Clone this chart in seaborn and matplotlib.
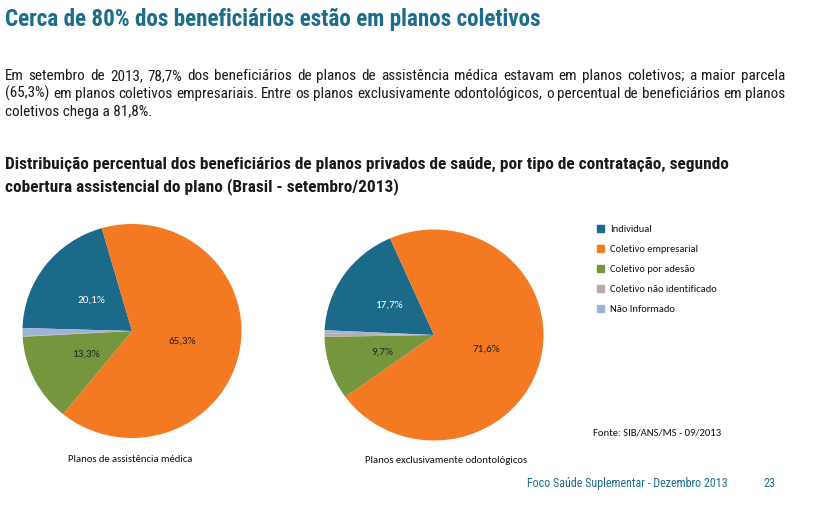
import matplotlib
matplotlib.use('Agg')
import matplotlib.pyplot as plt
import seaborn as sns
from matplotlib import font_manager as fm
from matplotlib.transforms import IdentityTransform

sns.set_theme(style='white')

names = {f.name for f in fm.fontManager.ttflist}
COND = 'Roboto Condensed' if 'Roboto Condensed' in names else 'DejaVu Sans'
SOFT = 'Carlito' if 'Carlito' in names else 'Lato'

# ---------------- data ----------------
categories = ['Individual', 'Coletivo empresarial', 'Coletivo por adesão',
              'Coletivo não identificado', 'Não Informado']
medica = [20.1, 65.3, 13.3, 0.1, 1.2]
odonto = [17.7, 71.6, 9.7, 0.5, 0.5]
colors = ['#1B6A89', '#F37A22', '#76963D', '#B8ADA7', '#9FB3D8']

title = 'Cerca de 80% dos beneficiários estão em planos coletivos'
paragraph = [
    'Em setembro de 2013, 78,7% dos beneficiários de planos de assistência médica estavam em planos coletivos; a maior parcela',
    '(65,3%) em planos coletivos empresariais. Entre os planos exclusivamente odontológicos, o percentual de beneficiários em planos',
    'coletivos chega a 81,8%.',
]
subtitle = [
    'Distribuição percentual dos beneficiários de planos privados de saúde, por tipo de contratação, segundo',
    'cobertura assistencial do plano (Brasil - setembro/2013)',
]
captions = ['Planos de assistência médica', 'Planos exclusivamente odontológicos']
source = 'Fonte: SIB/ANS/MS - 09/2013'
footer = 'Foco Saúde Suplementar - Dezembro 2013'
page = '23'

W, H = 814, 505
fig = plt.figure(figsize=(W / 100, H / 100), dpi=100)
fig.patch.set_facecolor('white')
renderer = fig.canvas.get_renderer()
ID = IdentityTransform()

TEAL = '#1C6D8C'


def width_of(s, size, family, weight='normal'):
    t = fig.text(0, 0, s, fontsize=size, family=family, weight=weight)
    w = t.get_window_extent(renderer).width
    t.remove()
    return w


def fit(s, target, family, weight='normal'):
    return 10 * target / width_of(s, 10, family, weight)


def put(x, ytop, s, size, family, weight='normal', color='black', ha='left'):
    # ytop is the vertical centre of the capital letters (pixels from top)
    base = round(ytop + 0.36 * size * 100 / 72)
    fig.text(x, H - base, s, fontsize=size, family=family, weight=weight,
             color=color, ha=ha, va='baseline', transform=ID)


# title
ts = fit(title, 538, COND, 'bold')
put(5, 18, title, ts, COND, 'bold', TEAL)

# paragraph (justified)
ps = fit(paragraph[1], 772, COND)
for i, line in enumerate(paragraph):
    y = 75 + 18 * i
    if i == len(paragraph) - 1:
        put(5, y, line, ps, COND, color='#1a1a1a')
        continue
    words = line.split(' ')
    ws = [width_of(w, ps, COND) for w in words]
    gap = (780 - sum(ws)) / (len(words) - 1)
    x = 5
    for w, wd in zip(words, ws):
        put(x, y, w, ps, COND, color='#1a1a1a')
        x += wd + gap

# subtitle
ss = fit(subtitle[0], 722, COND, 'bold')
put(5, 163, subtitle[0], ss, COND, 'bold', '#1a1a1a')
put(5, 185, subtitle[1], ss, COND, 'bold', '#1a1a1a')


# pies
def fmt(v):
    return ('%.1f%%' % v).replace('.', ',') if v >= 5 else ''


pies = [
    (medica, (132, 331, 109.5, 107), 178.4, 0.47),
    (odonto, (434, 335, 109.5, 105.5), 177.4, 0.50),
]
for vals, (cx, cy, rx, ry), start, pd in pies:
    ax = fig.add_axes([(cx - rx) / W, (H - cy - ry) / H, 2 * rx / W, 2 * ry / H])
    wedges, texts, autotexts = ax.pie(
        vals, colors=colors, startangle=start, counterclock=False,
        autopct=lambda v: fmt(v), pctdistance=pd, radius=1,
        wedgeprops=dict(linewidth=0),
        textprops=dict(fontsize=8, family=SOFT, color='#222222'))
    autotexts[0].set_color('white')
    ax.set_aspect('auto')
    ax.set_xlim(-1, 1)
    ax.set_ylim(-1, 1)
    ax.axis('off')

cs = fit(captions[0], 125, SOFT)
put(130, 458, captions[0], cs, SOFT, color='#111111', ha='center')
put(446, 459, captions[1], cs, SOFT, color='#111111', ha='center')

# legend
ls = fit(categories[3], 107, SOFT)
for i, (cat, col) in enumerate(zip(categories, colors)):
    y = 228 + 20 * i
    fig.patches.append(plt.Rectangle((597, H - y - 3.5), 7, 7, color=col,
                                     transform=ID, figure=fig))
    put(610, y, cat, ls, SOFT, color='#111111')

# source
fs = fit(source, 129, SOFT)
put(593, 431, source, fs, SOFT, color='#111111')

# footer
ff = fit(footer, 201, COND)
put(527, 483, footer, ff, COND, color=TEAL)
put(763, 483, page, ff, COND, color=TEAL)

fig.savefig('out.png', dpi=100, facecolor='white')
